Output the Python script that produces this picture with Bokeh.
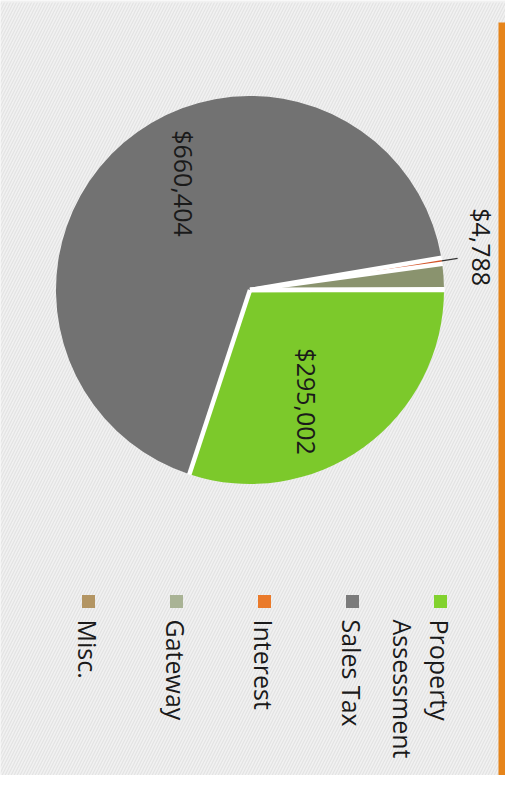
import math
import numpy as np
from bokeh.plotting import figure
from bokeh.models import Range1d, ColumnDataSource
from bokeh.core.properties import value
from bokeh.embed import file_html
from bokeh.resources import INLINE

# ---- data ----
categories = ["Property Assessment", "Sales Tax", "Interest", "Gateway", "Misc."]
amounts = [295002, 660404, 4788, 20500, 700]
labelled = [True, True, True, False, False]
legend_lines = [["Property", "Assessment"], ["Sales Tax"], ["Interest"], ["Gateway"], ["Misc."]]
pie_colors = ["#7cc92b", "#727272", "#d4552a", "#8a936e", "#9a7a4a"]
legend_colors = ["#82d22e", "#7b7b7b", "#ea7a2a", "#a9b395", "#b39563"]

# ---- layout ----
W, H = 505, 775
FONT = "Open Sans"
TXT = "#1a1a1a"
cx, cy = 249.5, 485.5   # pie centre (data units == px)
R = 194

p = figure(width=W, height=H, output_backend="svg", toolbar_location=None,
           x_range=Range1d(0, W), y_range=Range1d(0, H), min_border=0)
p.axis.visible = False
p.grid.visible = False
p.outline_line_color = None
p.background_fill_color = "#f1f1f1"
p.border_fill_color = "white"

# hatched panel background
p.quad(left=[0], right=[W], bottom=[0], top=[H - 2], fill_color="#f1f1f1", line_color=None,
       hatch_pattern="/", hatch_color="#e3e3e3", hatch_scale=6, hatch_weight=1.2)
# orange side bar
p.quad(left=[W - 7], right=[W], bottom=[0], top=[H - 22], fill_color="#e6841a", line_color=None)

vals = np.array(amounts, dtype=float)
frac = vals / vals.sum()
ends = np.cumsum(frac)
starts = ends - frac
src = ColumnDataSource(dict(
    start=-ends * 2 * math.pi,
    end=-starts * 2 * math.pi,
    color=pie_colors,
))
p.wedge(x=cx, y=cy, radius=R, radius_units="screen", start_angle="start", end_angle="end",
        fill_color="color", line_color=None, source=src)

# white separators along slice boundaries
b = -starts * 2 * math.pi
p.segment(x0=[cx] * len(b), y0=[cy] * len(b),
          x1=list(cx + (R + 0.5) * np.cos(b)), y1=list(cy + (R + 0.5) * np.sin(b)),
          line_color="white", line_width=4.5, line_cap="butt")

# value labels
mids = -(starts + frac / 2) * 2 * math.pi
lx, ly, lt = [], [], []
for i, (m, f, show) in enumerate(zip(mids, frac, labelled)):
    if not show:
        continue
    if f > 0.05:
        a = m - math.radians(9)
        r = 0.645 * R
    else:
        a = m + math.radians(1.8)
        r = R + 42
        # leader line
        p.line(x=[cx + R * math.cos(m), cx + (R + 16) * math.cos(m)],
               y=[cy + R * math.sin(m), cy + (R + 16) * math.sin(m)],
               line_color="#333333", line_width=1.2)
    lx.append(cx + r * math.cos(a))
    ly.append(cy + r * math.sin(a))
    lt.append("${:,}".format(amounts[i]))
p.text(x=lx, y=ly, text=lt, angle=-math.pi / 2, text_align="center", text_baseline="middle",
       text_font=value(FONT), text_font_size="25px", text_color=TXT)

# legend (rotated)
sq_y = 783 - 609
txt_y = 783 - 627
x0 = 448 - 8
step = 88
line_gap = 37
sx, sy, sc = [], [], []
tx, ty, tt = [], [], []
for i, (lines, col) in enumerate(zip(legend_lines, legend_colors)):
    xc = x0 - step * i
    sx.append(xc)
    sy.append(sq_y)
    sc.append(col)
    for j, ln in enumerate(lines):
        tx.append(xc - 1 - line_gap * j)
        ty.append(txt_y)
        tt.append(ln)
p.rect(x=sx, y=sy, width=13, height=13, width_units="screen", height_units="screen",
       fill_color=sc, line_color=None)
p.text(x=tx, y=ty, text=tt, angle=-math.pi / 2, text_align="left", text_baseline="middle",
       text_font=value(FONT), text_font_size="25px", text_color=TXT)

open("out.html", "w").write(file_html(p, INLINE))
